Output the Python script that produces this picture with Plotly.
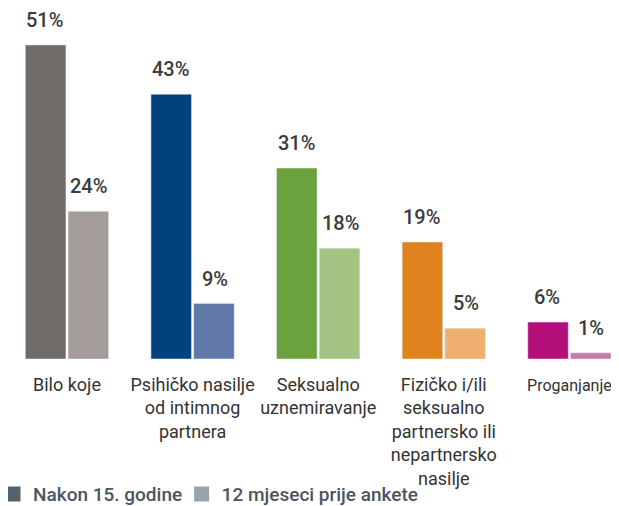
import plotly.graph_objects as go

categories = ["Bilo koje", "Psihičko nasilje<br>od intimnog<br>partnera", "Seksualno<br>uznemiravanje",
              "Fizičko i/ili<br>seksualno<br>partnersko ili<br>nepartnersko<br>nasilje",
              "<span style='font-size:16px'>Proganjanje</span>"]
since15 = [51, 43, 31, 19, 6]
last12 = [24, 9, 18, 5, 1]
series_names = ["Nakon 15. godine\u00a0\u00a0", "12 mjeseci prije ankete"]

dark_colors = ["#6f6b66", "#00427e", "#6aa33d", "#e0821d", "#b4107c"]
light_colors = ["#a59d9a", "#6078a8", "#a3c383", "#efaf6f", "#c87bab"]
legend_colors = ["#56626b", "#9aa3aa"]

FONT = "Roboto, Liberation Sans, sans-serif"
xs = list(range(len(categories)))

fig = go.Figure()
fig.add_bar(x=xs, y=since15, marker_color=dark_colors, showlegend=False, hoverinfo="skip")
fig.add_bar(x=xs, y=last12, marker_color=light_colors, showlegend=False, hoverinfo="skip")
# legend-only traces (scatter so they do not take bar slots)
for name, c in zip(series_names, legend_colors):
    fig.add_scatter(x=[None], y=[None], mode="markers", name=name,
                    marker=dict(symbol="square", size=15, color=c), showlegend=True)

for vals, shift in ((since15, -22), (last12, 22)):
    for x, v in zip(xs, vals):
        fig.add_annotation(x=x, y=v, text=f"{v}%", showarrow=False, xshift=shift,
                           yanchor="bottom", yshift=11,
                           font=dict(family=FONT, size=20, color="#3c3c3c", weight=500))

fig.update_layout(
    width=611, height=498,
    margin=dict(l=0, r=0, t=0, b=147, autoexpand=False),
    paper_bgcolor="white", plot_bgcolor="white",
    barmode="group", bargap=0.32, bargroupgap=0.05,
    font=dict(family=FONT, size=18, color="#333333"),
    xaxis=dict(range=[-0.4697, 4.395], tickmode="array", tickvals=xs, ticktext=categories,
               tickangle=0, showgrid=False, zeroline=False, showline=False, ticks="",
               automargin=False, ticklabelstandoff=13, ticklabeloverflow="allow",
               tickfont=dict(size=18, color="#333333")),
    yaxis=dict(range=[0, 57.0], visible=False, automargin=False),
    legend=dict(orientation="h", x=0, xanchor="left", yref="paper", y=-0.385, yanchor="middle",
                indentation=-15, bgcolor="rgba(0,0,0,0)",
                font=dict(size=19, color="#4a5560", weight=500), itemsizing="trace",
                traceorder="normal"),
)

fig.write_html("out.html")
